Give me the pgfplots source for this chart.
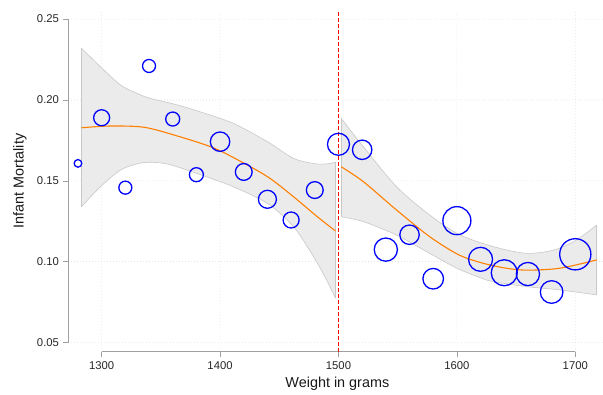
\documentclass[border=0pt]{standalone}
\usepackage{fontspec}
\setmainfont{Liberation Sans}
\usepackage{pgfplots}
\usepackage{pgfplotstable}
\usepgfplotslibrary{fillbetween}
\pgfplotsset{compat=1.18}
\definecolor{bandfill}{RGB}{235,235,235}
\definecolor{bandedge}{RGB}{200,200,200}
\definecolor{gridc}{RGB}{200,200,200}
\definecolor{axisc}{RGB}{160,160,160}
\definecolor{fitc}{RGB}{255,127,0}

\pgfplotstableread{
x y r
1280 0.1608 3.8
1300 0.1890 8.0
1320 0.1458 6.5
1340 0.2210 6.5
1360 0.1882 7.0
1380 0.1538 7.0
1400 0.1742 9.7
1420 0.1555 8.4
1440 0.1386 9.0
1460 0.1258 8.0
1480 0.1443 8.4
1500 0.1726 11.0
1520 0.1692 9.7
1540 0.1075 11.6
1560 0.1167 9.7
1580 0.0895 10.3
1600 0.1254 14.0
1620 0.1015 12.0
1640 0.0932 13.0
1660 0.0924 11.6
1680 0.0813 11.3
1700 0.1046 15.6
}\bins

\begin{document}
\begin{tikzpicture}
\begin{axis}[
  at={(68.5pt,42.3pt)}, anchor=south west,
  scale only axis, width=534.5pt, height=341.7pt,
  xmin=1272, xmax=1723.4, ymin=0.0444, ymax=0.2556,
  clip=false,
  axis line style={draw=none},
  xtick={1300,1400,1500,1600,1700},
  ytick={0.05,0.10,0.15,0.20,0.25},
  xtick pos=bottom, ytick pos=left,
  tick align=outside, major tick length=5pt,
  tick style={axisc, line width=0.6pt},
  grid=major,
  major grid style={gridc, line width=0.6pt, line cap=round, dash pattern=on 0pt off 3pt},
  /pgf/number format/assume math mode=true,
  xticklabel style={/pgf/number format/set thousands separator={}, font=\fontsize{11.3}{13}\selectfont, text=black!85, yshift=-1pt},
  yticklabel style={/pgf/number format/.cd, fixed, fixed zerofill, precision=2, /tikz/.cd, font=\fontsize{11.3}{13}\selectfont, text=black!85, xshift=-1pt},
  xlabel={Weight in grams},
  ylabel={Infant Mortality},
  every axis x label/.style={at={(axis description cs:0.503,-0.1062)}, anchor=base, font=\fontsize{14.4}{16}\selectfont, text=black!90},
  every axis y label/.style={at={(axis description cs:-0.0841,0.5)}, rotate=90, anchor=base, font=\fontsize{14.4}{16}\selectfont, text=black!90},
]
% partial axis lines
\draw[axisc, line width=0.8pt] (axis cs:1300,0.0444) -- (axis cs:1700,0.0444);
\draw[axisc, line width=0.8pt] (axis cs:1272,0.05) -- (axis cs:1272,0.25);

% left band
\addplot[name path=lu, bandedge, line width=0.6pt, smooth] coordinates {
 (1283,0.2319) (1299,0.2205) (1316,0.2092) (1330,0.2040) (1341,0.2010) (1361,0.1975)
 (1383,0.1927) (1411,0.1856) (1440,0.1742) (1462,0.1639) (1480,0.1606) (1490,0.1605) (1497.5,0.1615)};
\addplot[name path=ll, bandedge, line width=0.6pt, smooth] coordinates {
 (1283,0.1340) (1299,0.1464) (1316,0.1567) (1330,0.1605) (1341,0.1615) (1355,0.1605) (1372,0.1567)
 (1392,0.1516) (1411,0.1464) (1440,0.1361) (1462,0.1217) (1479,0.1031) (1490,0.0887) (1497.5,0.0774)};
\addplot[bandfill] fill between[of=lu and ll];
\addplot[bandedge, line width=0.6pt] coordinates {(1283,0.2319) (1283,0.1340)};
\addplot[bandedge, line width=0.6pt] coordinates {(1497.5,0.1615) (1497.5,0.0774)};
% right band
\addplot[name path=ru, bandedge, line width=0.6pt, smooth] coordinates {
 (1502.3,0.1886) (1521,0.1711) (1549,0.1464) (1577,0.1289) (1602,0.1168) (1631,0.1093)
 (1659,0.1052) (1682,0.1073) (1701,0.1134) (1718,0.1227)};
\addplot[name path=rl, bandedge, line width=0.6pt, smooth] coordinates {
 (1502.3,0.1278) (1521,0.1248) (1549,0.1165) (1577,0.1052) (1600,0.0960) (1620,0.0900)
 (1631,0.0877) (1659,0.0846) (1687,0.0826) (1718,0.0795)};
\addplot[bandfill] fill between[of=ru and rl];
\addplot[bandedge, line width=0.6pt] coordinates {(1502.3,0.1886) (1502.3,0.1278)};
\addplot[bandedge, line width=0.6pt] coordinates {(1718,0.1227) (1718,0.0795)};

% fitted lines
\addplot[fitc, line width=1.1pt, smooth] coordinates {
 (1283,0.1828) (1307,0.1839) (1336,0.1831) (1364,0.1777) (1392,0.1711)
 (1411,0.1645) (1440,0.1526) (1462,0.1402) (1482,0.1279) (1497.5,0.1190)
};
\addplot[fitc, line width=1.1pt, smooth] coordinates {
 (1502.3,0.1587) (1521,0.1495) (1549,0.1320) (1577,0.1155) (1601,0.1045)
 (1620,0.0995) (1640,0.0962) (1659,0.0948) (1687,0.0960) (1718,0.1011)
};

% bins
\addplot[scatter, only marks, mark=o, line width=1.3pt,
  scatter/use mapped color={draw=blue},
  visualization depends on={\thisrow{r}\as\rad},
  scatter/@pre marker code/.append style={/tikz/mark size=\rad}]
  table[x=x, y=y] {\bins};

% cutoff
\draw[red, dash pattern=on 4pt off 2pt, line width=1pt] (axis cs:1500,0.0444) -- (axis cs:1500,0.2556);
\end{axis}
\pgfresetboundingbox
\path[use as bounding box] (0,0) rectangle (603pt,394pt);
\end{tikzpicture}
\end{document}
